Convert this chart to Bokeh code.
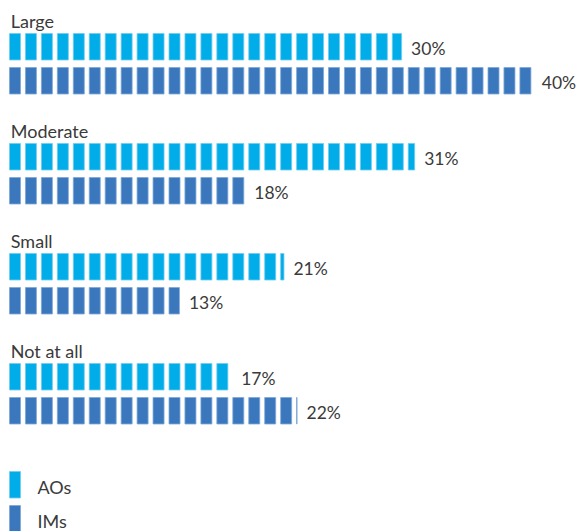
from bokeh.plotting import figure
from bokeh.models import Range1d, ColumnDataSource
from bokeh.core.properties import value
from bokeh.embed import file_html
from bokeh.resources import INLINE
import numpy as np

categories = ["Large", "Moderate", "Small", "Not at all"]
aos = [30, 31, 21, 17]
ims = [40, 18, 13, 22]
series_names = ["AOs", "IMs"]
colors = ["#00ade8", "#3a77bd"]
edge_colors = ["#6fcdf0", "#7fa8d8"]

W, H = 577, 531
X0 = 9.0
PX_PER_PCT = 13.07
PITCH = 15.95 / PX_PER_PCT
SEG_W = 11.0 / PX_PER_PCT

p = figure(width=W, height=H, output_backend="svg", toolbar_location=None,
           x_range=Range1d(-X0 / PX_PER_PCT, (W - X0) / PX_PER_PCT),
           y_range=Range1d(H, 0),
           min_border=0, outline_line_color=None)
p.axis.visible = False
p.grid.visible = False
p.background_fill_color = "white"
p.border_fill_color = "white"

FONT = value("Lato")
TXT = "#3a3a3a"
FS = "17.5px"
BAR_H = 26.5

for i, cat in enumerate(categories):
    base = 33 + 110 * i
    p.text(x=[0.1], y=[base - 13], text=[cat], text_font=FONT, text_font_size="18px",
           text_color=TXT, text_baseline="alphabetic", text_align="left")
    for s, vals in enumerate([aos, ims]):
        v = vals[i]
        top = base + 34 * s
        starts = np.arange(0, v, PITCH)
        ends = np.minimum(starts + SEG_W, v)
        src = ColumnDataSource(dict(left=starts, right=ends,
                                    top=[top] * len(starts), bottom=[top + BAR_H] * len(starts)))
        p.quad(left="left", right="right", top="top", bottom="bottom", source=src,
               fill_color=colors[s], line_color=edge_colors[s], line_width=0.8)
        p.text(x=[v + 9.5 / PX_PER_PCT], y=[top + BAR_H / 2 + 1.5], text=[f"{v}%"],
               text_font=FONT, text_font_size=FS, text_color=TXT,
               text_baseline="middle", text_align="left")

# legend
for s, name in enumerate(series_names):
    top = 471 + 34 * s
    p.quad(left=[0], right=[SEG_W], top=[top], bottom=[top + BAR_H],
           fill_color=colors[s], line_color=edge_colors[s], line_width=0.8)
    p.text(x=[28 / PX_PER_PCT], y=[top + BAR_H / 2 + 2], text=[name], text_font=FONT,
           text_font_size="18px", text_color=TXT, text_baseline="middle", text_align="left")

open("out.html", "w").write(file_html(p, INLINE))
